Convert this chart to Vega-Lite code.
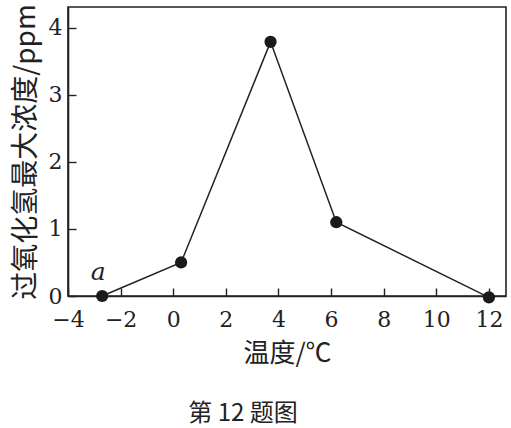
{
  "$schema": "https://vega.github.io/schema/vega-lite/v6.json",
  "autosize": {"type": "none"},
  "width": 438,
  "height": 289,
  "padding": {"left": 68, "top": 7, "right": 5, "bottom": 132},
  "background": "white",
  "config": {
    "view": {"stroke": "#222", "strokeWidth": 1.6},
    "font": "DejaVu Serif",
    "axis": {
      "grid": false,
      "domainColor": "#222",
      "domainWidth": 1.6,
      "tickColor": "#222",
      "tickWidth": 1.4,
      "tickSize": -8,
      "labelFont": "DejaVu Serif",
      "labelFontSize": 22,
      "labelColor": "#222",
      "titleFont": "Noto Sans CJK SC",
      "titleFontWeight": "normal",
      "titleFontSize": 26,
      "titleColor": "#222"
    }
  },
  "title": {
    "text": "第 12 题图",
    "orient": "bottom",
    "anchor": "middle",
    "font": "Noto Sans CJK SC",
    "fontSize": 24,
    "fontWeight": "normal",
    "color": "#222",
    "offset": 36,
    "dx": -44
  },
  "data": {
    "values": [
      {"t": -2.7, "c": 0.0, "label": "a"},
      {"t": 0.3, "c": 0.5, "label": ""},
      {"t": 3.7, "c": 3.79, "label": ""},
      {"t": 6.2, "c": 1.1, "label": ""},
      {"t": 12.0, "c": -0.02, "label": ""}
    ]
  },
  "encoding": {
    "x": {
      "field": "t",
      "type": "quantitative",
      "scale": {"domain": [-4, 12.65], "nice": false, "zero": false},
      "axis": {
        "values": [-4, -2, 0, 2, 4, 6, 8, 10, 12],
        "title": "温度/℃",
        "labelPadding": 21,
        "titlePadding": 10,
        "labelFlush": false,
        "labelOverlap": false
      }
    },
    "y": {
      "field": "c",
      "type": "quantitative",
      "scale": {"domain": [0, 4.31], "nice": false},
      "axis": {
        "values": [0, 1, 2, 3, 4],
        "title": "过氧化氢最大浓度/ppm",
        "titleFontSize": 28,
        "labelPadding": 14,
        "titlePadding": 8,
        "labelFlush": false
      }
    }
  },
  "layer": [
    {"mark": {"type": "line", "color": "#222", "strokeWidth": 1.5, "clip": false}},
    {"mark": {"type": "point", "filled": true, "color": "#1a1a1a", "size": 150, "opacity": 1, "clip": false}},
    {
      "mark": {"type": "text", "font": "DejaVu Serif", "fontStyle": "italic", "fontSize": 25, "color": "#222", "dx": -4, "dy": -24},
      "encoding": {"text": {"field": "label"}}
    }
  ]
}
